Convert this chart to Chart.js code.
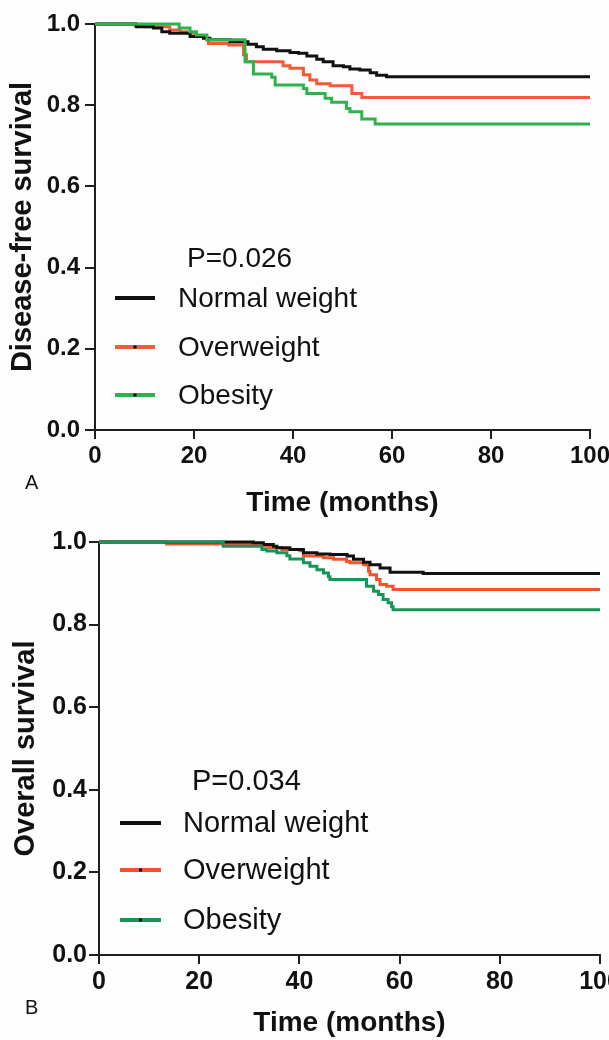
<!DOCTYPE html>
<html>
<head>
<meta charset="utf-8">
<script src="https://cdn.jsdelivr.net/npm/chart.js@4.4.1/dist/chart.umd.min.js"></script>
<style>
  html, body { margin: 0; padding: 0; background: #fdfdfe; }
  #wrap { position: relative; width: 609px; height: 1040px; overflow: hidden; }
  .pane { position: absolute; left: 0; width: 609px; height: 520px; }
  #pa { top: 0; }
  #pb { top: 520px; }
</style>
</head>
<body>
<div id="wrap">
  <div class="pane" id="pa"><canvas id="cA" width="609" height="520"></canvas></div>
  <div class="pane" id="pb"><canvas id="cB" width="609" height="520"></canvas></div>
</div>
<script>
// ---------- Data ----------
const groups = ['Normal weight', 'Overweight', 'Obesity'];
const xTicks = [0, 20, 40, 60, 80, 100];
const yTicks = [0.0, 0.2, 0.4, 0.6, 0.8, 1.0];

// Panel A: Disease-free survival
const tA_normal = [0, 8.4, 11.8, 13.5, 15.1, 19.2, 21.9, 23.2, 27.3, 30.9, 32.6, 34.0, 36.7, 39.4, 41.1, 42.8, 44.8, 46.1, 48.1, 50.2, 51.5, 53.5, 55.6, 56.9, 58.9, 100];
const sA_normal = [1, 0.993, 0.990, 0.981, 0.977, 0.969, 0.965, 0.961, 0.956, 0.950, 0.944, 0.938, 0.934, 0.930, 0.928, 0.921, 0.913, 0.907, 0.897, 0.895, 0.889, 0.887, 0.880, 0.874, 0.870, 0.870];
const tA_over = [0, 8.1, 10.1, 15.1, 17.2, 18.5, 20.5, 22.6, 22.9, 27.0, 30.0, 30.6, 38.0, 39.4, 42.1, 43.4, 44.8, 47.5, 51.9, 53.9, 100];
const sA_over = [1, 0.995, 0.993, 0.985, 0.981, 0.977, 0.969, 0.961, 0.952, 0.948, 0.924, 0.907, 0.897, 0.891, 0.875, 0.862, 0.853, 0.848, 0.829, 0.819, 0.819];
const tA_obes = [0, 17.0, 19.2, 20.5, 22.6, 30.3, 32.0, 35.7, 36.4, 42.1, 42.8, 46.5, 47.8, 50.8, 51.5, 53.9, 56.6, 100];
const sA_obes = [1, 0.990, 0.981, 0.973, 0.961, 0.907, 0.877, 0.869, 0.850, 0.841, 0.829, 0.817, 0.807, 0.792, 0.784, 0.766, 0.754, 0.754];

// Panel B: Overall survival
const tB_normal = [0, 30.8, 32.8, 34.8, 35.5, 38.1, 40.8, 43.5, 46.1, 49.5, 50.8, 52.8, 54.1, 56.1, 58.1, 64.7, 100];
const sB_normal = [1, 0.998, 0.994, 0.990, 0.986, 0.982, 0.974, 0.971, 0.970, 0.966, 0.958, 0.951, 0.945, 0.937, 0.927, 0.924, 0.924];
const tB_over = [0, 13.5, 32.8, 34.1, 36.5, 40.1, 40.8, 44.8, 46.8, 49.4, 50.1, 52.8, 53.8, 54.1, 55.4, 56.1, 57.4, 58.7, 100];
const sB_over = [1, 0.995, 0.990, 0.986, 0.982, 0.979, 0.966, 0.962, 0.958, 0.953, 0.950, 0.945, 0.929, 0.921, 0.909, 0.897, 0.893, 0.885, 0.885];
const tB_obes = [0, 24.8, 32.5, 33.5, 35.5, 37.5, 38.1, 40.8, 42.1, 43.5, 44.8, 45.8, 46.1, 53.4, 54.8, 55.8, 56.7, 57.7, 58.4, 58.7, 100];
const sB_obes = [1, 0.990, 0.982, 0.978, 0.974, 0.967, 0.959, 0.950, 0.941, 0.933, 0.925, 0.916, 0.909, 0.893, 0.881, 0.873, 0.861, 0.853, 0.843, 0.836, 0.836];

const pA = 'P=0.026';
const pB = 'P=0.034';

// ---------- Helpers ----------
const FONT = "'Liberation Sans', Arial, Helvetica, sans-serif";
const AXIS = '#1e1e1e';
const pts = (t, s) => t.map((x, i) => ({ x: x, y: s[i] }));

const kmText = {
  id: 'kmText',
  afterDraw(chart, args, o) {
    const ctx = chart.ctx;
    ctx.save();
    ctx.textBaseline = 'middle';
    ctx.textAlign = 'left';
    ctx.fillStyle = '#111';
    ctx.font = o.size + 'px ' + FONT;
    ctx.fillText(o.p, o.pX, o.pY);
    o.items.forEach((it) => {
      ctx.strokeStyle = it.color;
      ctx.lineWidth = 4;
      ctx.lineCap = 'butt';
      ctx.beginPath();
      ctx.moveTo(o.lx1, it.y);
      ctx.lineTo(o.lx2, it.y);
      ctx.stroke();
      if (it.dot) {
        ctx.fillStyle = '#000';
        ctx.fillRect((o.lx1 + o.lx2) / 2 - 1.5, it.y - 1.5, 3, 3);
      }
      ctx.fillStyle = '#111';
      ctx.fillText(it.label, o.tx, it.y + 1);
    });
    ctx.font = '20px ' + FONT;
    ctx.fillText(o.panel, o.panelX, o.panelY);
    ctx.restore();
  }
};

function makeChart(id, cfg) {
  const ds = [
    { label: groups[2], data: pts(cfg.t[2], cfg.s[2]), borderColor: cfg.colors[2], order: 0 },
    { label: groups[0], data: pts(cfg.t[0], cfg.s[0]), borderColor: cfg.colors[0], order: 1 },
    { label: groups[1], data: pts(cfg.t[1], cfg.s[1]), borderColor: cfg.colors[1], order: 2 }
  ].map(d => Object.assign(d, {
    stepped: 'before', borderWidth: 3, pointRadius: 0, fill: false, clip: 6, tension: 0
  }));
  return new Chart(document.getElementById(id), {
    type: 'line',
    data: { datasets: ds },
    plugins: [kmText],
    options: {
      responsive: false,
      animation: false,
      events: [],
      layout: { padding: { top: cfg.top, right: cfg.right, left: 0, bottom: 0 } },
      plugins: {
        legend: { display: false },
        tooltip: { enabled: false },
        kmText: cfg.text
      },
      scales: {
        x: {
          type: 'linear', min: 0, max: 100,
          afterBuildTicks: (s) => { s.ticks = xTicks.map(v => ({ value: v })); },
          ticks: { color: '#111', font: { family: FONT, size: cfg.tickSize, weight: 'bold' }, padding: 3, maxRotation: 0, autoSkip: false },
          grid: { drawOnChartArea: false, drawTicks: true, tickLength: 9, lineWidth: 2, color: AXIS },
          border: { display: true, color: AXIS, width: 2 },
          title: { display: true, text: 'Time (months)', color: '#111', font: { family: FONT, size: 28, weight: 'bold' }, padding: { top: 0, bottom: 0 } },
          afterFit: (s) => { s.height = cfg.xh; s.paddingLeft = 0; s.paddingRight = 0; }
        },
        y: {
          type: 'linear', min: 0, max: 1,
          afterBuildTicks: (s) => { s.ticks = yTicks.map(v => ({ value: v })); },
          ticks: { color: '#111', font: { family: FONT, size: cfg.tickSize, weight: 'bold' }, padding: cfg.ypad, callback: (v) => Number(v).toFixed(1) },
          grid: { drawOnChartArea: false, drawTicks: true, tickLength: 10, lineWidth: 2, color: AXIS },
          border: { display: true, color: AXIS, width: 2 },
          title: { display: true, text: cfg.ytitle, color: '#111', font: { family: FONT, size: 29, weight: 'bold' }, padding: { top: cfg.ytp, bottom: 0 } },
          afterFit: (s) => { s.width = cfg.yw; s.paddingTop = 0; s.paddingBottom = 0; }
        }
      }
    }
  });
}

makeChart('cA', {
  t: [tA_normal, tA_over, tA_obes],
  s: [sA_normal, sA_over, sA_obes],
  colors: ['#111111', '#f25b3a', '#2cb34b'],
  top: 24, right: 19, xh: 90, yw: 95, ypad: 5, ytp: 6, tickSize: 24,
  ytitle: 'Disease-free survival',
  text: {
    p: pA, pX: 187, pY: 259, size: 28,
    lx1: 115, lx2: 155, tx: 178,
    items: [
      { label: groups[0], color: '#111111', y: 298, dot: false },
      { label: groups[1], color: '#f25b3a', y: 347, dot: true },
      { label: groups[2], color: '#2cb34b', y: 395, dot: true }
    ],
    panel: 'A', panelX: 25, panelY: 483
  }
});

makeChart('cB', {
  t: [tB_normal, tB_over, tB_obes],
  s: [sB_normal, sB_over, sB_obes],
  colors: ['#111111', '#f2532d', '#16955a'],
  top: 22, right: 9, xh: 85, yw: 99, ypad: 2, ytp: 9, tickSize: 25,
  ytitle: 'Overall survival',
  text: {
    p: pB, pX: 192, pY: 262, size: 29,
    lx1: 120, lx2: 161, tx: 183,
    items: [
      { label: groups[0], color: '#111111', y: 303, dot: false },
      { label: groups[1], color: '#f2532d', y: 350, dot: true },
      { label: groups[2], color: '#16955a', y: 400, dot: true }
    ],
    panel: 'B', panelX: 25, panelY: 488
  }
});
</script>
</body>
</html>
